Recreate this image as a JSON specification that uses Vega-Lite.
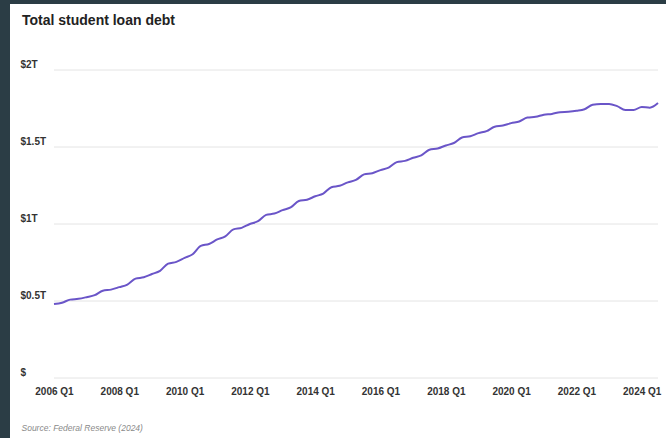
{
  "$schema": "https://vega.github.io/schema/vega-lite/v6.json",
  "width": 656,
  "height": 434,
  "autosize": {"type": "none"},
  "padding": {"left": 10, "top": 4, "right": 0, "bottom": 0},
  "background": "#2b3d45",
  "config": {"view": {"fill": "#ffffff", "stroke": null}},
  "title": {
    "text": "Total student loan debt",
    "anchor": "start",
    "offset": -24,
    "dx": 12,
    "font": "Liberation Sans",
    "fontSize": 14,
    "fontWeight": "bold",
    "color": "#222222"
  },
  "datasets": {
    "debt": [
      {"q": "2006-01-01T00:00:00", "v": 0.48},
      {"q": "2006-04-01T00:00:00", "v": 0.489},
      {"q": "2006-07-01T00:00:00", "v": 0.509},
      {"q": "2006-10-01T00:00:00", "v": 0.514},
      {"q": "2007-01-01T00:00:00", "v": 0.525},
      {"q": "2007-04-01T00:00:00", "v": 0.538},
      {"q": "2007-07-01T00:00:00", "v": 0.567},
      {"q": "2007-10-01T00:00:00", "v": 0.574},
      {"q": "2008-01-01T00:00:00", "v": 0.59},
      {"q": "2008-04-01T00:00:00", "v": 0.607},
      {"q": "2008-07-01T00:00:00", "v": 0.645},
      {"q": "2008-10-01T00:00:00", "v": 0.654},
      {"q": "2009-01-01T00:00:00", "v": 0.675},
      {"q": "2009-04-01T00:00:00", "v": 0.696},
      {"q": "2009-07-01T00:00:00", "v": 0.743},
      {"q": "2009-10-01T00:00:00", "v": 0.754},
      {"q": "2010-01-01T00:00:00", "v": 0.78},
      {"q": "2010-04-01T00:00:00", "v": 0.804},
      {"q": "2010-07-01T00:00:00", "v": 0.858},
      {"q": "2010-10-01T00:00:00", "v": 0.87},
      {"q": "2011-01-01T00:00:00", "v": 0.9},
      {"q": "2011-04-01T00:00:00", "v": 0.92},
      {"q": "2011-07-01T00:00:00", "v": 0.965},
      {"q": "2011-10-01T00:00:00", "v": 0.975},
      {"q": "2012-01-01T00:00:00", "v": 1.0},
      {"q": "2012-04-01T00:00:00", "v": 1.018},
      {"q": "2012-07-01T00:00:00", "v": 1.059},
      {"q": "2012-10-01T00:00:00", "v": 1.068},
      {"q": "2013-01-01T00:00:00", "v": 1.09},
      {"q": "2013-04-01T00:00:00", "v": 1.108},
      {"q": "2013-07-01T00:00:00", "v": 1.149},
      {"q": "2013-10-01T00:00:00", "v": 1.158},
      {"q": "2014-01-01T00:00:00", "v": 1.18},
      {"q": "2014-04-01T00:00:00", "v": 1.198},
      {"q": "2014-07-01T00:00:00", "v": 1.239},
      {"q": "2014-10-01T00:00:00", "v": 1.248},
      {"q": "2015-01-01T00:00:00", "v": 1.27},
      {"q": "2015-04-01T00:00:00", "v": 1.286},
      {"q": "2015-07-01T00:00:00", "v": 1.322},
      {"q": "2015-10-01T00:00:00", "v": 1.33},
      {"q": "2016-01-01T00:00:00", "v": 1.35},
      {"q": "2016-04-01T00:00:00", "v": 1.366},
      {"q": "2016-07-01T00:00:00", "v": 1.402},
      {"q": "2016-10-01T00:00:00", "v": 1.41},
      {"q": "2017-01-01T00:00:00", "v": 1.43},
      {"q": "2017-04-01T00:00:00", "v": 1.446},
      {"q": "2017-07-01T00:00:00", "v": 1.482},
      {"q": "2017-10-01T00:00:00", "v": 1.49},
      {"q": "2018-01-01T00:00:00", "v": 1.51},
      {"q": "2018-04-01T00:00:00", "v": 1.526},
      {"q": "2018-07-01T00:00:00", "v": 1.562},
      {"q": "2018-10-01T00:00:00", "v": 1.57},
      {"q": "2019-01-01T00:00:00", "v": 1.59},
      {"q": "2019-04-01T00:00:00", "v": 1.603},
      {"q": "2019-07-01T00:00:00", "v": 1.632},
      {"q": "2019-10-01T00:00:00", "v": 1.639},
      {"q": "2020-01-01T00:00:00", "v": 1.655},
      {"q": "2020-04-01T00:00:00", "v": 1.666},
      {"q": "2020-07-01T00:00:00", "v": 1.691},
      {"q": "2020-10-01T00:00:00", "v": 1.696},
      {"q": "2021-01-01T00:00:00", "v": 1.71},
      {"q": "2021-04-01T00:00:00", "v": 1.715},
      {"q": "2021-07-01T00:00:00", "v": 1.726},
      {"q": "2021-10-01T00:00:00", "v": 1.729},
      {"q": "2022-01-01T00:00:00", "v": 1.735},
      {"q": "2022-04-01T00:00:00", "v": 1.745},
      {"q": "2022-07-01T00:00:00", "v": 1.775},
      {"q": "2022-10-01T00:00:00", "v": 1.78},
      {"q": "2023-01-01T00:00:00", "v": 1.78},
      {"q": "2023-04-01T00:00:00", "v": 1.765},
      {"q": "2023-07-01T00:00:00", "v": 1.74},
      {"q": "2023-10-01T00:00:00", "v": 1.74},
      {"q": "2024-01-01T00:00:00", "v": 1.76},
      {"q": "2024-04-01T00:00:00", "v": 1.755},
      {"q": "2024-07-01T00:00:00", "v": 1.785}
    ],
    "grid": [
      {"v": 0},
      {"v": 0.5},
      {"v": 1},
      {"v": 1.5},
      {"v": 2}
    ]
  },
  "layer": [
    {
      "data": {"name": "grid"},
      "mark": {"type": "rule", "color": "#e4e4e4", "strokeWidth": 1},
      "encoding": {
        "y": {
          "field": "v",
          "type": "quantitative",
          "scale": {"domain": [0, 2], "range": [374, 66], "nice": false, "zero": true},
          "axis": {
            "orient": "left",
            "values": [0, 0.5, 1, 1.5, 2],
            "labelExpr": "datum.value == 0 ? '$' : '$' + datum.value + 'T'",
            "domain": false,
            "ticks": false,
            "tickSize": 0,
            "grid": false,
            "labelAlign": "left",
            "labelPadding": -10,
            "labelBaseline": "alphabetic",
            "labelOffset": -3,
            "labelFont": "Liberation Sans",
            "labelFontSize": 10,
            "labelFontWeight": "bold",
            "labelColor": "#333333",
            "labelOverlap": false,
            "title": null
          }
        },
        "x": {"datum": {"year": 2006, "month": 1, "date": 1}, "type": "temporal"},
        "x2": {"datum": {"year": 2024, "month": 7, "date": 1}}
      }
    },
    {
      "data": {"name": "debt"},
      "mark": {"type": "line", "color": "#6a55c8", "strokeWidth": 2, "interpolate": "monotone"},
      "encoding": {
        "x": {
          "field": "q",
          "type": "temporal",
          "scale": {
            "domain": [{"year": 2006, "month": 1, "date": 1}, {"year": 2024, "month": 7, "date": 1}],
            "range": [44, 648],
            "nice": false
          },
          "axis": {
            "orient": "bottom",
            "offset": -60,
            "values": [
              {"year": 2006, "month": 1, "date": 1},
              {"year": 2008, "month": 1, "date": 1},
              {"year": 2010, "month": 1, "date": 1},
              {"year": 2012, "month": 1, "date": 1},
              {"year": 2014, "month": 1, "date": 1},
              {"year": 2016, "month": 1, "date": 1},
              {"year": 2018, "month": 1, "date": 1},
              {"year": 2020, "month": 1, "date": 1},
              {"year": 2022, "month": 1, "date": 1},
              {"year": 2024, "month": 1, "date": 1}
            ],
            "format": "%Y Q%q",
            "domain": false,
            "ticks": false,
            "tickSize": 0,
            "grid": false,
            "labelPadding": 8,
            "labelFlush": false,
            "labelOverlap": false,
            "labelFont": "Liberation Sans",
            "labelFontSize": 10,
            "labelFontWeight": "bold",
            "labelColor": "#333333",
            "title": "Source: Federal Reserve (2024)",
            "titleX": 11,
            "titleY": 52,
            "titleAlign": "left",
            "titleAnchor": "start",
            "titleBaseline": "alphabetic",
            "titleFont": "Liberation Sans",
            "titleFontSize": 8.5,
            "titleFontStyle": "italic",
            "titleFontWeight": "normal",
            "titleColor": "#8a8a8a"
          }
        },
        "y": {
          "field": "v",
          "type": "quantitative",
          "scale": {"domain": [0, 2], "range": [374, 66], "nice": false, "zero": true}
        }
      }
    }
  ]
}
